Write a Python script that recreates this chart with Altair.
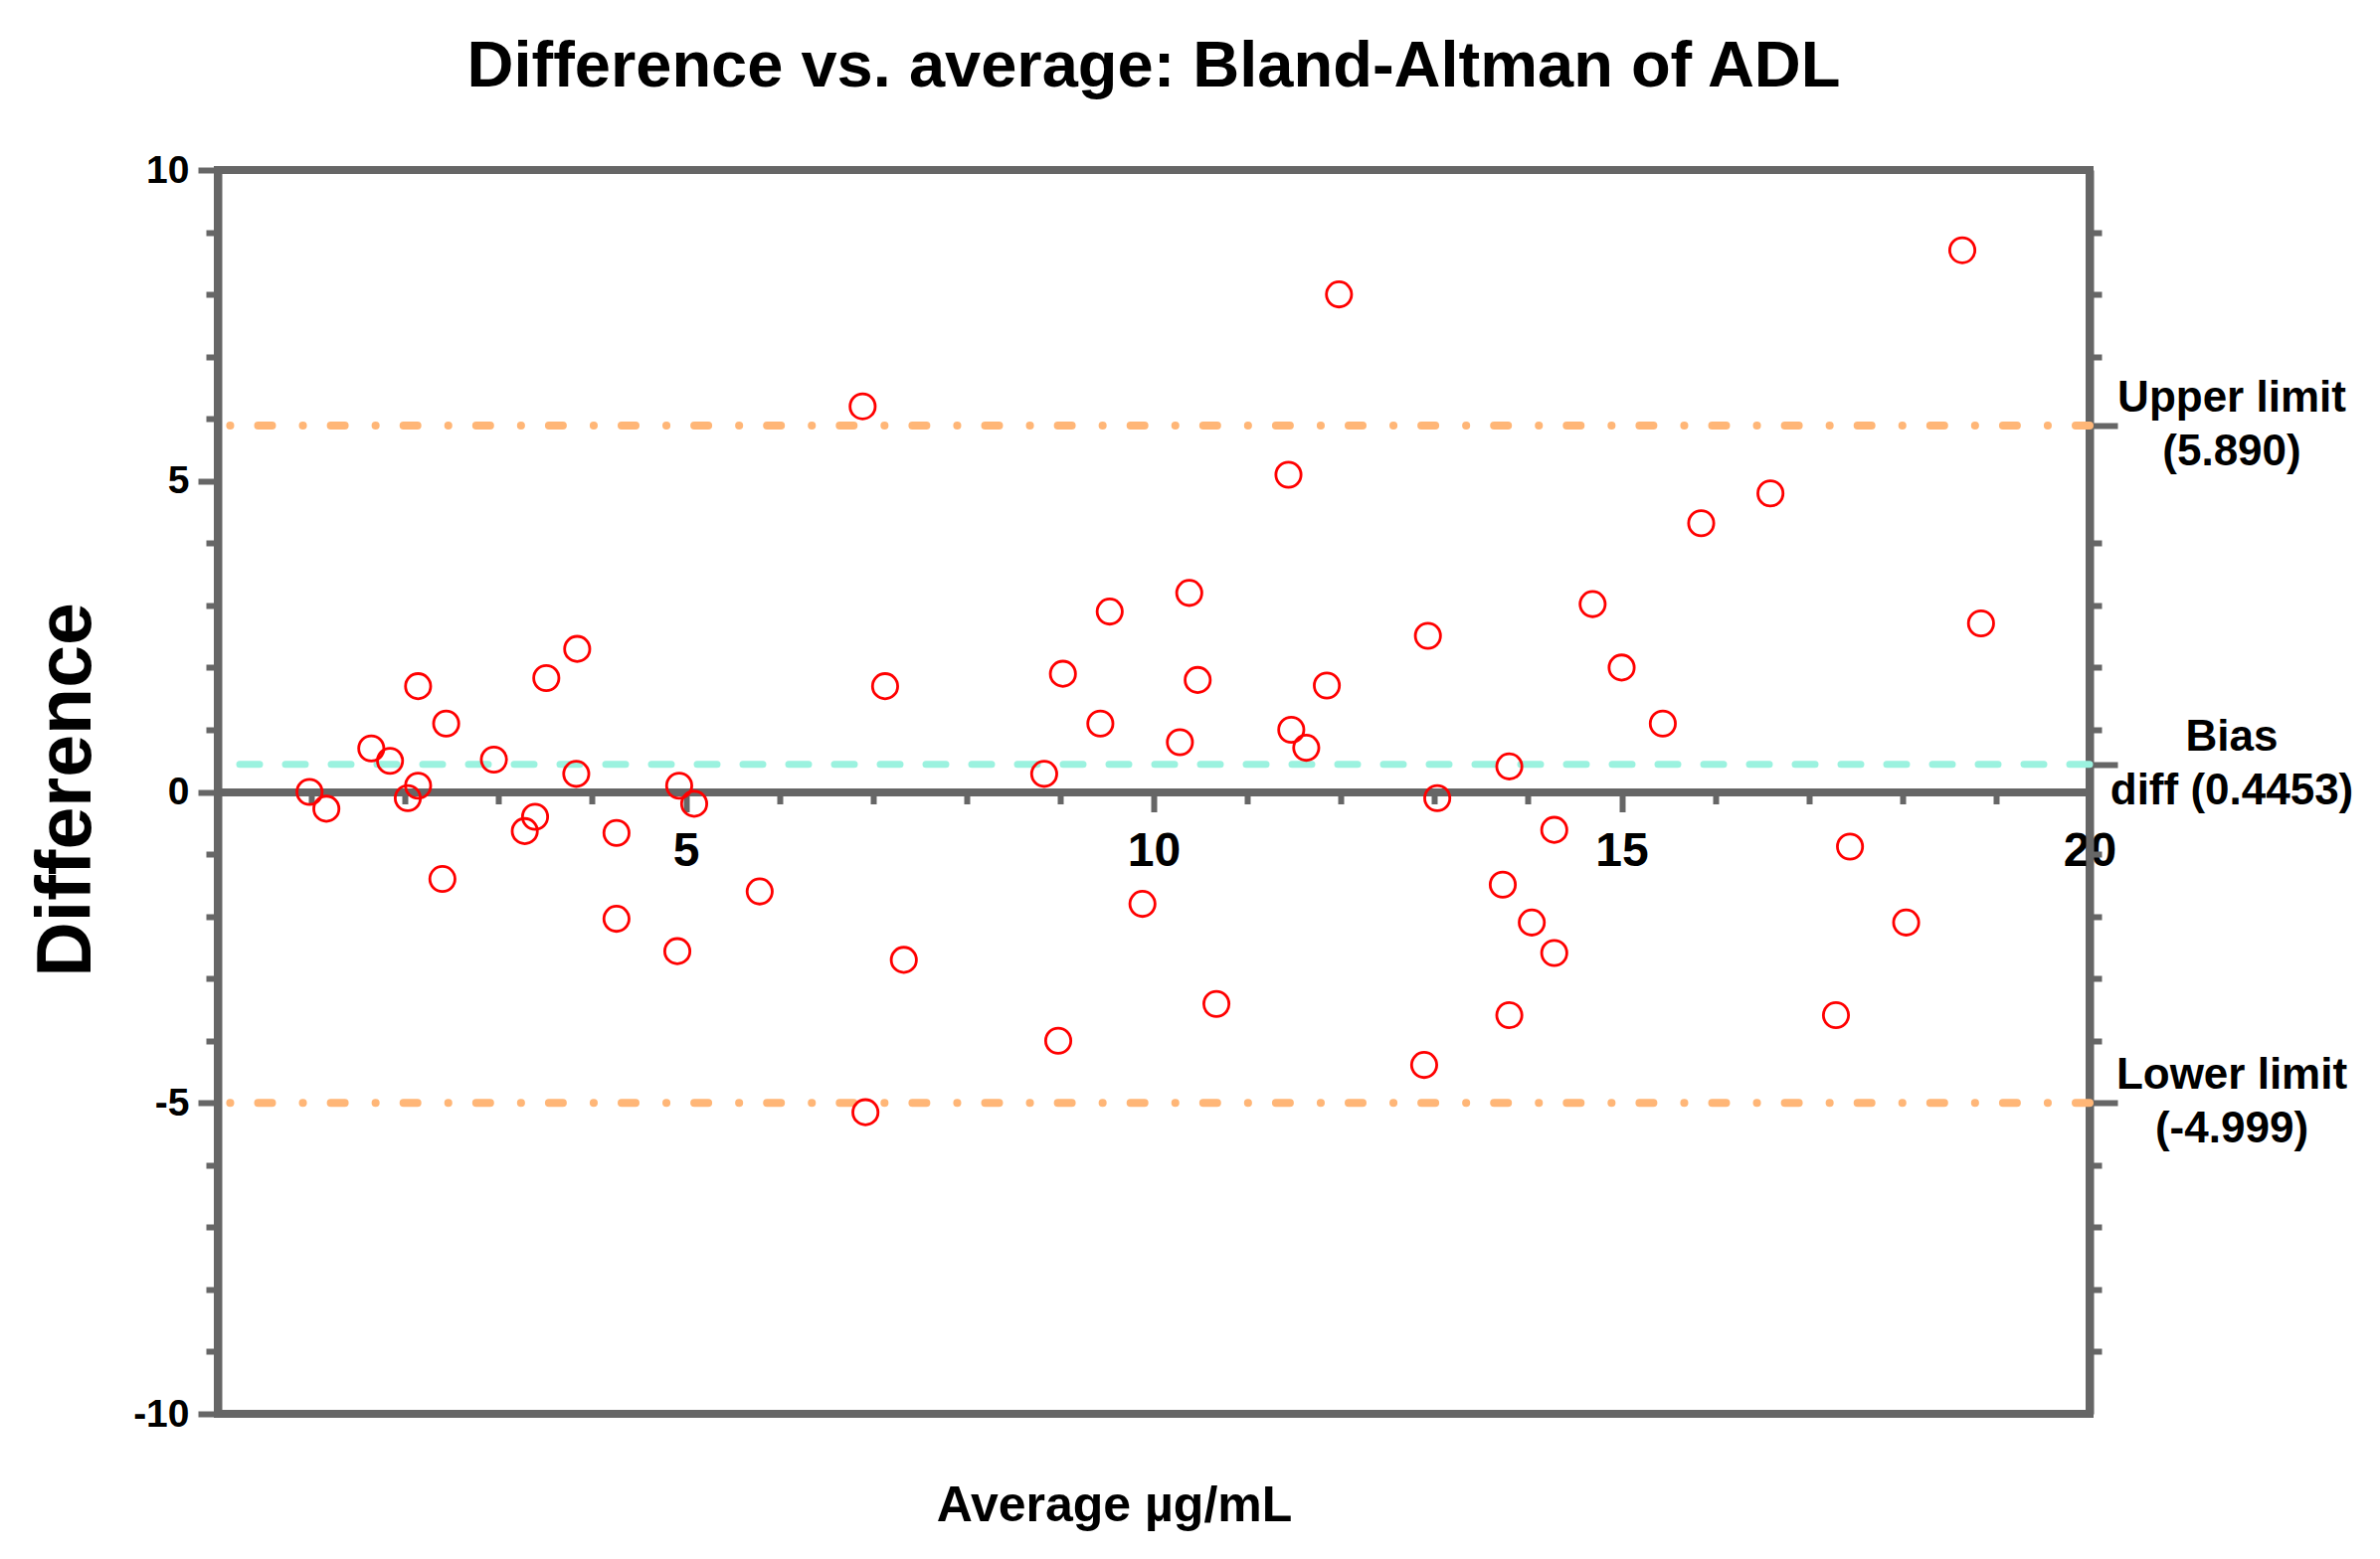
import altair as alt
import pandas as pd

# ---- data ----
avg = [0.98, 1.16, 1.64, 1.84, 2.14, 2.03, 2.14, 2.44, 2.40, 2.95,
       3.28, 3.39, 3.51, 3.84, 3.83, 4.26, 4.26, 4.93, 5.09, 4.91,
       5.79, 6.89, 7.13, 6.92, 7.33, 8.83, 9.03, 8.98, 9.53, 9.43,
       9.88, 10.38, 10.47, 10.28, 10.67, 11.44, 11.47, 11.63, 11.85, 11.98,
       12.93, 13.03, 12.89, 13.80, 13.73, 14.04, 13.80, 14.28, 14.28, 14.69,
       15.00, 15.44, 15.85, 16.59, 17.44, 17.29, 18.04, 18.64, 18.84]
diff = [0.00, -0.27, 0.70, 0.50, 1.70, -0.10, 0.10, 1.10, -1.40, 0.52,
        -0.63, -0.40, 1.83, 2.30, 0.29, -0.66, -2.04, 0.10, -0.19, -2.56,
        -1.60, 6.20, 1.70, -5.15, -2.70, 0.29, 1.90, -4.00, 2.90, 1.10,
        -1.80, 3.20, 1.80, 0.80, -3.41, 5.10, 1.00, 0.71, 1.71, 8.00,
        2.51, -0.10, -4.39, 0.41, -1.49, -2.10, -3.59, -0.61, -2.59, 3.02,
        2.00, 1.10, 4.32, 4.80, -0.88, -3.59, -2.10, 8.71, 2.71]

line_values = [5.890, 0.4453, -4.999]
line_names = ["Upper limit", "Bias", "Lower limit"]
line_labels = ["Upper limit\n(5.890)", "Bias\ndiff (0.4453)", "Lower limit\n(-4.999)"]

x_ticks = list(range(1, 21))
y_ticks = list(range(-10, 11))
right_minor = [9, 8, 7, 4, 3, 2, 1, -1, -2, -3, -4, -6, -7, -8, -9]

# ---- styling ----
W, H = 1882, 1251
AX = "#666666"
FONT = "Liberation Sans"

pts = pd.DataFrame({"avg": avg, "diff": diff})
lines = pd.DataFrame({"value": line_values, "name": line_names, "label": line_labels})

xscale = alt.Scale(domain=[0, 20], nice=False, zero=False)
yscale = alt.Scale(domain=[-10, 10], nice=False, zero=False)

major5 = "datum.value % 5 === 0"

x_axis = alt.Axis(
    values=x_ticks, orient="bottom", offset=-H / 2,
    labelExpr=f"{major5} ? toString(datum.value) : ''",
    tickSize={"condition": {"test": major5, "value": 20}, "value": 12},
    tickWidth=6, tickColor=AX, domainColor=AX, domainWidth=8,
    labelFont=FONT, labelFontSize=48, labelFontWeight="bold", labelColor="black",
    labelPadding=16, labelOverlap=False, labelFlush=False, labelBound=False,
    grid=False,
    title="Average µg/mL", titleFont=FONT, titleFontSize=50, titleFontWeight="bold",
    titleColor="black", titleX=901, titleY=733, titleBaseline="alphabetic",
    titleAlign="center", titleAnchor="middle",
)

y_axis = alt.Axis(
    values=y_ticks, orient="left",
    labelExpr=f"{major5} ? toString(datum.value) : ''",
    tickSize={"condition": {"test": major5, "value": 20}, "value": 12},
    tickWidth=6, tickColor=AX, domainColor=AX, domainWidth=8,
    labelFont=FONT, labelFontSize=39, labelFontWeight="bold", labelColor="black",
    labelPadding=9, labelOverlap=False, labelFlush=False, labelBound=False,
    grid=False,
    title="Difference", titleFont=FONT, titleFontSize=77, titleFontWeight="bold",
    titleColor="black", titleX=-152, titleY=623, titleAngle=270,
    titleBaseline="middle", titleAlign="center",
)

major_test = "indexof([" + ",".join(str(v) for v in line_values) + "], datum.value) >= 0"
right_axis = alt.Axis(
    values=right_minor + line_values, orient="right", labels=False,
    tickSize={"condition": {"test": major_test, "value": 28}, "value": 12},
    tickWidth=6, tickColor=AX, domainColor=AX, domainWidth=8,
    grid=False, title=None,
)

points = alt.Chart(pts).mark_point(
    shape="circle", filled=False, color="#FF0000", size=640,
    strokeWidth=2.8, opacity=1,
).encode(
    x=alt.X("avg:Q", scale=xscale, axis=x_axis),
    y=alt.Y("diff:Q", scale=yscale, axis=y_axis),
)

limit_rules = alt.Chart(lines).transform_filter(
    "datum.name !== 'Bias'"
).mark_rule(
    color="#FFB677", strokeWidth=8, strokeDash=[14, 28, 0.1, 31], strokeCap="round",
).encode(
    y=alt.Y("value:Q", scale=yscale, axis=right_axis),
)

bias_rule = alt.Chart(lines).transform_filter(
    "datum.name === 'Bias'"
).mark_rule(
    color="#9BF2DF", strokeWidth=7, strokeDash=[20, 26], strokeCap="round",
).encode(
    y=alt.Y("value:Q", scale=yscale, axis=None),
)

texts = alt.Chart(lines).mark_text(
    lineBreak="\n", align="center", baseline="middle", font=FONT,
    fontSize=44, fontWeight="bold", lineHeight=54, color="black", dy=-27,
).encode(
    x=alt.value(W + 143),
    y=alt.Y("value:Q", scale=yscale, axis=None),
    text="label:N",
)

chart = alt.layer(limit_rules, bias_rule, points, texts).resolve_axis(
    y="independent"
).properties(
    width=W, height=H,
    background="white",
    title=alt.TitleParams(
        "Difference vs. average: Bland-Altman of ADL", font=FONT, fontSize=65,
        fontWeight="bold", color="black", anchor="middle", offset=51,
    ),
    padding={"left": 211, "top": 163, "right": 280, "bottom": 140},
    autosize=alt.AutoSizeParams(type="none"),
).configure_view(
    stroke=AX, strokeWidth=8,
)

chart.save("out.html", embed_options={"renderer": "svg", "actions": False})
